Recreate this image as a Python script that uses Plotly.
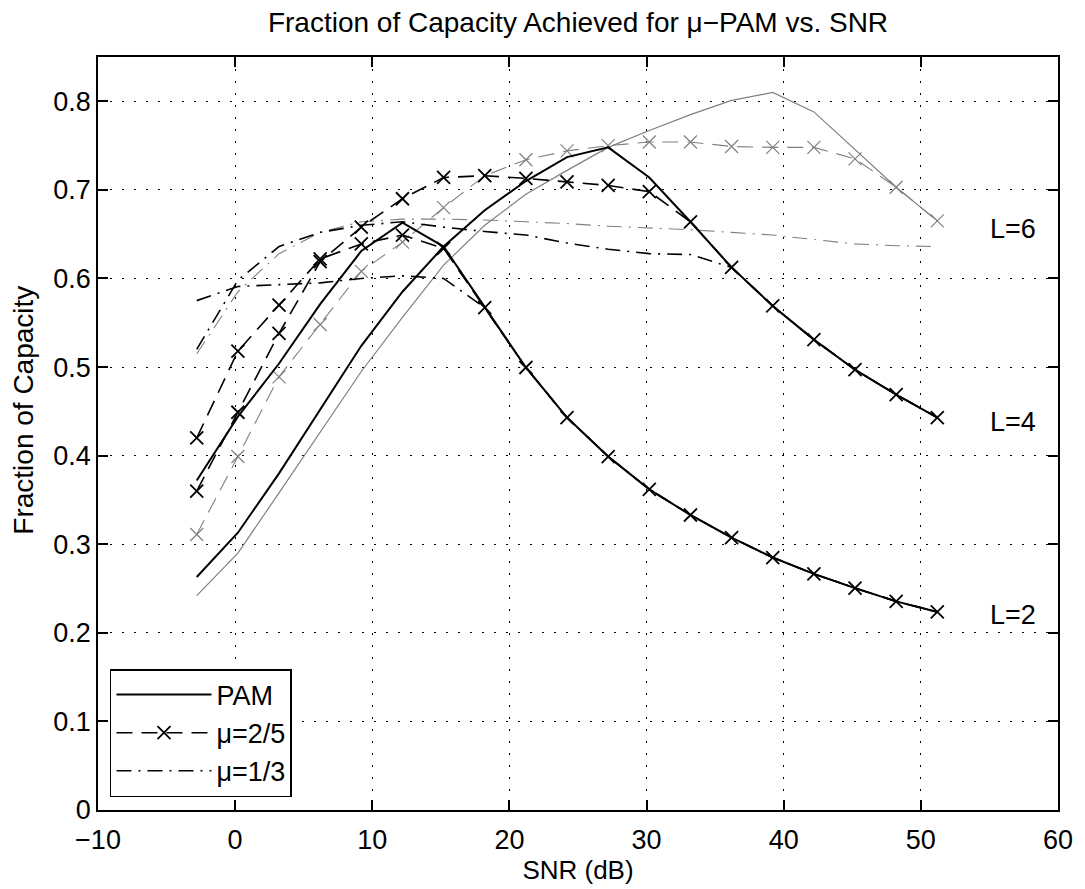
import plotly.graph_objects as go

# SNR grid (dB)
snr_db = [-2.8, 0.2, 3.2, 6.2, 9.2, 12.2, 15.2, 18.2, 21.2, 24.2, 27.2, 30.2,
          33.2, 36.2, 39.2, 42.2, 45.2, 48.2, 51.2]

# L = 2
pam_L2 = [0.372, 0.444, 0.504, 0.571, 0.631, 0.663, 0.636, 0.567, 0.4995, 0.443,
          0.399, 0.362, 0.333, 0.3075, 0.285, 0.2665, 0.2505, 0.2355, 0.2236]
mu25_L2 = [0.420, 0.518, 0.570, 0.622, 0.639, 0.649, 0.634, 0.567, 0.4995, 0.443,
           0.399, 0.362, 0.333, 0.3075, 0.285, 0.2665, 0.2505, 0.2355, 0.2236]
mu13_L2 = [0.575, 0.591, 0.593, 0.595, 0.600, 0.603, 0.600, 0.567, 0.4995, 0.443,
           0.399, 0.362, 0.333, 0.3075, 0.285, 0.2665, 0.2505, 0.2355, 0.2236]

# L = 4
pam_L4 = [0.263, 0.313, 0.380, 0.452, 0.524, 0.585, 0.636, 0.677, 0.710, 0.737,
          0.748, 0.714, 0.664, 0.6125, 0.569, 0.531, 0.497, 0.469, 0.443]
mu25_L4 = [0.360, 0.449, 0.538, 0.619, 0.658, 0.690, 0.714, 0.716, 0.713, 0.709,
           0.705, 0.698, 0.664, 0.6125, 0.569, 0.531, 0.497, 0.469, 0.443]
mu13_L4 = [0.520, 0.598, 0.636, 0.652, 0.660, 0.664, 0.658, 0.653, 0.649, 0.640,
           0.633, 0.628, 0.627, 0.6125, 0.569, 0.531, 0.497, 0.469, 0.443]

# L = 6
pam_L6 = [0.242, 0.290, 0.358, 0.427, 0.495, 0.556, 0.615, 0.660, 0.695, 0.722,
          0.748, 0.767, 0.785, 0.801, 0.810, 0.788, 0.745, 0.703, 0.665]
mu25_L6 = [0.311, 0.399, 0.489, 0.548, 0.608, 0.641, 0.680, 0.716, 0.734, 0.744,
           0.750, 0.754, 0.754, 0.749, 0.748, 0.748, 0.735, 0.703, 0.665]
mu13_L6 = [0.515, 0.585, 0.628, 0.652, 0.664, 0.667, 0.667, 0.666, 0.664, 0.662,
           0.659, 0.657, 0.655, 0.652, 0.649, 0.644, 0.639, 0.637, 0.636]

curve_labels = ["L=6", "L=4", "L=2"]
label_x = [56.7, 56.7, 56.7]
label_y = [0.656, 0.438, 0.2206]

x_ticks = [-10, 0, 10, 20, 30, 40, 50, 60]
y_ticks = [0, 0.1, 0.2, 0.3, 0.4, 0.5, 0.6, 0.7, 0.8]
y_ticktext = ["0", "0.1", "0.2", "0.3", "0.4", "0.5", "0.6", "0.7", "0.8"]

FONT = "Liberation Sans, Arial, Helvetica, sans-serif"
GRAY = "#808080"
BLACK = "#000000"
DASH = "16px,9px"
DASHDOT = "15px,7px,2px,7px"

fig = go.Figure()

def add(y, color, width, dash, marker=False, name=None, legend=False, rank=None):
    kw = dict(
        x=snr_db, y=y, name=name, showlegend=legend,
        line=dict(color=color, width=width, dash=dash),
        hoverinfo="skip",
    )
    if marker:
        kw["mode"] = "lines+markers"
        kw["marker"] = dict(symbol="x-thin", size=13, color=color,
                            line=dict(color=color, width=1.8 if color == BLACK else 1.2))
    else:
        kw["mode"] = "lines"
    if rank is not None:
        kw["legendrank"] = rank
    fig.add_trace(go.Scatter(**kw))

# gray L=6 first
add(mu13_L6, GRAY, 1.1, DASHDOT)
add(mu25_L6, GRAY, 1.1, DASH, marker=True)
add(pam_L6, GRAY, 1.2, "solid")
# L=4
add(mu13_L4, BLACK, 1.6, DASHDOT)
add(mu25_L4, BLACK, 1.6, DASH, marker=True)
add(pam_L4, BLACK, 2, "solid")
# L=2
add(mu13_L2, BLACK, 1.6, DASHDOT, name="μ=1/3", legend=True, rank=3)
add(mu25_L2, BLACK, 1.6, DASH, marker=True, name="μ=2/5", legend=True, rank=2)
add(pam_L2, BLACK, 2, "solid", name="PAM", legend=True, rank=1)

for t, xx, yy in zip(curve_labels, label_x, label_y):
    fig.add_annotation(x=xx, y=yy, text=t, showarrow=False, xanchor="center",
                       yanchor="middle", font=dict(family=FONT, size=27, color=BLACK))

# y-axis title placed as in the reference (slightly above the axis centre)
fig.add_annotation(xref="paper", yref="paper", x=(24 - 98) / 961, y=(813 - 412) / 756,
                   text="Fraction of Capacity", textangle=-90, showarrow=False,
                   xanchor="center", yanchor="middle",
                   font=dict(family=FONT, size=28, color=BLACK))

axis_common = dict(
    showline=True, linecolor=BLACK, linewidth=1.5, mirror="ticks",
    ticks="inside", ticklen=10, tickwidth=1.5, tickcolor=BLACK,
    showgrid=True, gridcolor=BLACK, gridwidth=1, griddash="2px,10px",
    zeroline=False, tickfont=dict(family=FONT, size=27, color=BLACK),
)

fig.update_xaxes(range=[-10, 60], tickvals=x_ticks, ticklabelstandoff=5,
                 title=dict(text="SNR (dB)", font=dict(family=FONT, size=26, color=BLACK), standoff=4),
                 **axis_common)
fig.update_yaxes(range=[0, 0.85], tickvals=y_ticks, ticktext=y_ticktext,
                 **axis_common)

fig.update_layout(
    width=1085, height=889,
    margin=dict(l=98, r=26, t=57, b=76),
    paper_bgcolor="white", plot_bgcolor="white",
    title=dict(text="Fraction of Capacity Achieved for μ−PAM vs. SNR",
               x=578 / 1085, xanchor="center", y=1 - 22 / 889, yanchor="middle",
               font=dict(family=FONT, size=28, color=BLACK)),
    legend=dict(x=(110 - 98) / 961, y=(813 - 800) / 756, xanchor="left", yanchor="bottom",
                bgcolor="white", bordercolor=BLACK, borderwidth=1.5,
                font=dict(family=FONT, size=27, color=BLACK),
                itemwidth=95, tracegroupgap=0),
    showlegend=True,
)

fig.write_html("out.html", config={"responsive": False, "displayModeBar": False})
